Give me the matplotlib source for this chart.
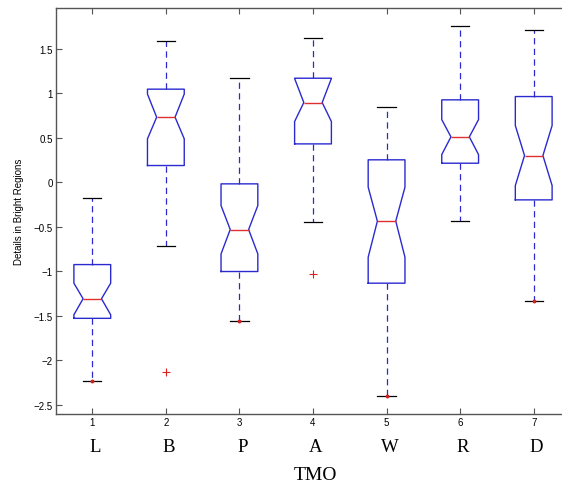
import matplotlib
matplotlib.use('Agg')
import matplotlib.pyplot as plt
import matplotlib.transforms as mtransforms

# box statistics (MATLAB style notched boxplot)
tmo = ['L', 'B', 'P', 'A', 'W', 'R', 'D']
q1 = [-1.53, 0.187, -1.004, 0.430, -1.135, 0.213, -0.199]
med = [-1.31, 0.730, -0.532, 0.895, -0.438, 0.509, 0.299]
q3 = [-0.926, 1.045, -0.019, 1.168, 0.251, 0.925, 0.962]
cilo = [-1.49, 0.487, -0.806, 0.681, -0.843, 0.310, -0.038]
cihi = [-1.135, 0.99, -0.263, 1.165, -0.056, 0.703, 0.636]
whislo = [-2.236, -0.712, -1.562, -0.449, -2.401, -0.431, -1.337]
whishi = [-0.18, 1.591, 1.168, 1.618, 0.843, 1.756, 1.708]
fliers = [[], [-2.128], [], [-1.03], [], [], []]
dot_boxes = [1, 3, 5, 7]   # tiny red dots sitting on the lower caps

stats = []
for i in range(len(tmo)):
    stats.append(dict(q1=q1[i], med=med[i], q3=q3[i], cilo=cilo[i], cihi=cihi[i],
                      whislo=whislo[i], whishi=whishi[i], fliers=fliers[i]))

fig = plt.figure(figsize=(5.62, 4.89), dpi=100)
ax = fig.add_axes([55.5/562, 1 - 415/489, 515/562, 406/489])

blue = '#2a2ad0'
ax.bxp(stats, positions=range(1, 8), widths=0.5, shownotches=True,
       boxprops=dict(color=blue, linewidth=1.0),
       whiskerprops=dict(color=blue, linewidth=0.9, linestyle=(0, (5, 3.5))),
       capprops=dict(color='black', linewidth=0.9),
       medianprops=dict(color='#e03030', linewidth=1.0),
       flierprops=dict(marker='+', markeredgecolor='#e02020', markersize=6,
                       markeredgewidth=0.8, linestyle='none'))

ax.plot(dot_boxes, [whislo[b - 1] for b in dot_boxes], 'o', color='#d02020',
        markersize=1.8, linestyle='none')

ax.set_xlim(0.5, 7.5)
ax.set_ylim(-2.605, 1.957)
ax.set_yticks([-2.5, -2, -1.5, -1, -0.5, 0, 0.5, 1, 1.5])
ax.set_yticklabels(['\u22122.5', '\u22122', '\u22121.5', '\u22121', '\u22120.5',
                    '0', '0.5', '1', '1.5'])
ax.set_xticks(range(1, 8))
ax.set_xticklabels([str(i) for i in range(1, 8)])

for s in ax.spines.values():
    s.set_color('#555555')
    s.set_linewidth(1.0)
ax.tick_params(direction='in', length=4, width=0.8, color='#555555',
               labelsize=7, pad=2, top=True, right=True)
for lab in ax.get_xticklabels() + ax.get_yticklabels():
    lab.set_fontfamily('Liberation Sans')

ax.set_ylabel('Details in Bright Regions', fontsize=7, family='Liberation Sans')
ax.yaxis.set_label_coords(-0.062, 0.5)

trans = mtransforms.blended_transform_factory(ax.transData, ax.transAxes)
for i, name in enumerate(tmo):
    ax.text(i + 1.04, -0.08, name, transform=trans, ha='center', va='center',
            fontsize=13.5, family='Liberation Serif')
fig.text(315/562, 1 - 476/489, 'TMO', ha='center', va='center',
         fontsize=14, family='Liberation Serif')

fig.savefig('out.png', dpi=100)
